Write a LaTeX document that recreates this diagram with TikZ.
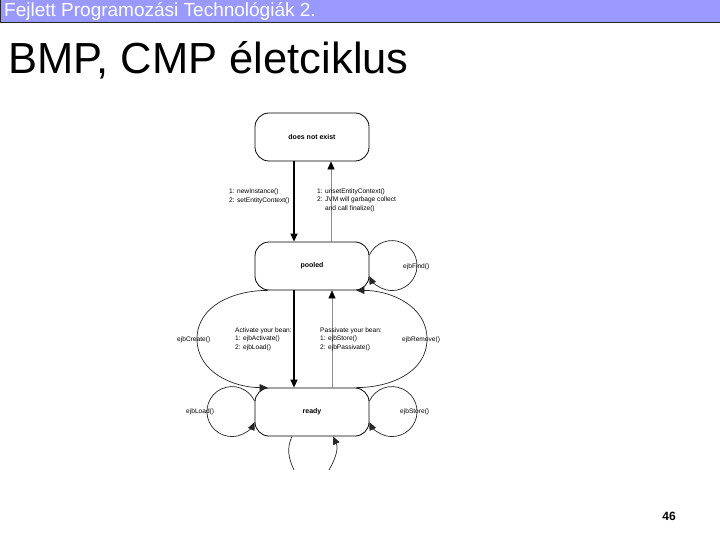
\documentclass[tikz,border=0pt]{standalone}
\usepackage{fontspec}
\setmainfont{Liberation Sans}
\usetikzlibrary{arrows.meta}
\definecolor{headblue}{RGB}{153,153,255}

\begin{document}
\begin{tikzpicture}[x=1bp, y=-1bp, node distance=129bp, auto,
        >={Triangle[length=8bp,width=7bp]},
        state/.style={rectangle, draw, line width=0.8bp, minimum width=114bp, minimum height=48bp, rounded corners=14bp, font=\fontsize{7bp}{8bp}\selectfont\bfseries},
        lbl/.style={font=\fontsize{6.6bp}{8.7bp}\selectfont, align=left, inner sep=0pt, anchor=west},
        call/.style={->, line width=1.3bp},
        back/.style={-{Triangle[length=8bp,width=7bp,color=black]}, draw=black!45, line width=0.6bp},
        loopline/.style={draw=black!85, line width=0.7bp}]
        \useasboundingbox (0,0) rectangle (720,540);
        % header and title
        \draw[fill=headblue, draw=black!85, line width=1bp] (0.5,-2) rectangle (722,22.5);
        \node[anchor=west, text=white, inner sep=0pt, font=\fontsize{19bp}{21bp}\selectfont] (head) at (4,11) {Fejlett Programozási Technológiák 2.};
        \node[anchor=base west, inner sep=0pt, font=\fontsize{43.5bp}{48bp}\selectfont] (title) at (8,74) {BMP, CMP életciklus};
        \node[font=\fontsize{12bp}{14bp}\selectfont\bfseries] (pnum) at (669,516) {46};
        % states
        \node[state] (dne) at (312,137) {does not exist};
        \node[state, below of=dne] (pooled) {pooled};
        \node[state, below of=pooled, node distance=146bp] (ready) {ready};
        % transitions
        \draw[call] ([xshift=-18bp]dne.south) -- ([xshift=-18bp]pooled.north);
        \draw[back] ([xshift=19bp]pooled.north) -- ([xshift=19bp]dne.south);
        \draw[call] ([xshift=-18bp]pooled.south) -- ([xshift=-18bp]ready.north);
        \draw[back] ([xshift=20bp]ready.north) -- ([xshift=20bp]pooled.south);
        \coordinate (cl) at (197,339);
        \coordinate (cr) at (427,339);
        \draw[loopline, ->] ([xshift=13bp]pooled.south west) to[out=180, in=90] (cl) to[out=-90, in=180] ([xshift=13bp]ready.north west);
        \draw[loopline, ->] ([xshift=-13bp]ready.north east) to[out=0, in=-90] (cr) to[out=90, in=0] ([xshift=-13bp]pooled.south east);
        \draw[loopline, ->] ([yshift=11bp]pooled.east) arc[start angle=155, end angle=-155, radius=25bp];
        \draw[loopline, ->] ([yshift=11bp]ready.east) arc[start angle=155, end angle=-155, radius=25bp];
        \draw[loopline, ->] ([yshift=11bp]ready.west) arc[start angle=25, end angle=335, radius=25bp];
        \coordinate (b1) at (294,470);
        \coordinate (b2) at (329,470);
        \draw[loopline] ([xshift=-20bp]ready.south) to[out=-115, in=115] (b1);
        \draw[loopline, ->] (b2) to[out=60, in=-65] ([xshift=21bp]ready.south);
        % labels
        \node[lbl] (newlbl) at (229,196) {1: newInstance()\\2: setEntityContext()};
        \node[lbl] (unsetlbl) at (317,200) {1: unsetEntityContext()\\2: JVM will garbage collect\\\phantom{2: }and call finalize()};
        \node[lbl] (actlbl) at (235,339) {Activate your bean:\\1: ejbActivate()\\2: ejbLoad()};
        \node[lbl] (passlbl) at (320,339) {Passivate your bean:\\1: ejbStore()\\2: ejbPassivate()};
        \node[lbl] (createlbl) at (177,340) {ejbCreate()};
        \node[lbl] (removelbl) at (402,340) {ejbRemove()};
        \node[lbl] (findlbl) at (403,267) {ejbFind()};
        \node[lbl] (loadlbl) at (186,412) {ejbLoad()};
        \node[lbl] (storelbl) at (400,412) {ejbStore()};
    \end{tikzpicture}
\end{document}
